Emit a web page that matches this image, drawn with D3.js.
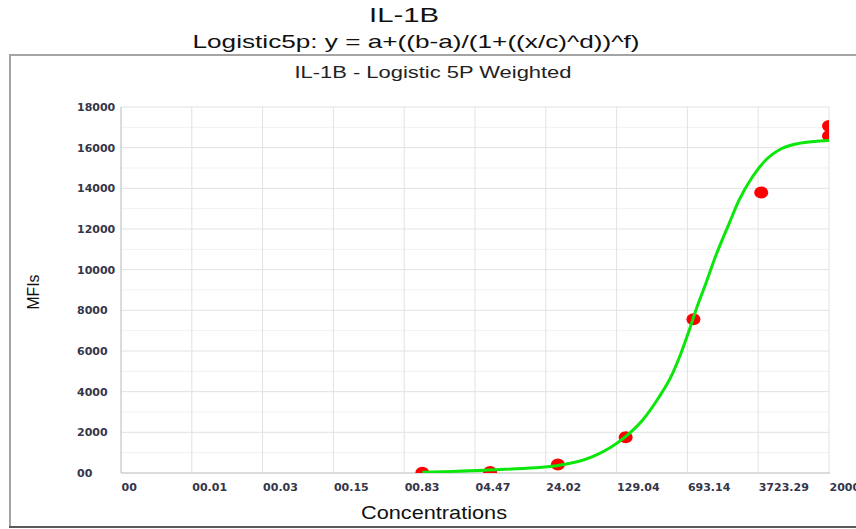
<!DOCTYPE html>
<html>
<head>
<meta charset="utf-8">
<script src="https://cdn.jsdelivr.net/npm/d3@7"></script>
<style>
  body { margin: 0; background: #fff; }
  svg { display: block; }
  .tick text { font-family: "DejaVu Sans", sans-serif; font-weight: bold; font-size: 11px; fill: #34364a; }
</style>
</head>
<body>
<div id="chart"></div>
<script>
// axis ticks (log spaced on x, as the instrument prints them)
const xTickValues = [0.001, 0.00537, 0.02885, 0.155, 0.8326, 4.472, 24.02, 129.04, 693.14, 3723.29, 20000];
const xTickLabels = ['00', '00.01', '00.03', '00.15', '00.83', '04.47', '24.02', '129.04', '693.14', '3723.29', '20000'];
const yTickValues = [0, 2000, 4000, 6000, 8000, 10000, 12000, 14000, 16000, 18000];
const yTickLabels = ['00', '2000', '4000', '6000', '8000', '10000', '12000', '14000', '16000', '18000'];
const yMinorValues = [1000, 3000, 5000, 7000, 9000, 11000, 13000, 15000, 17000];

// standards (red dots)
const stdConc = [1.28, 6.4, 32, 160, 800, 4000, 20000, 20000];
const stdMFI = [15, 50, 420, 1760, 7560, 13800, 17070, 16570];

// fitted 5P curve
const fitConc = [1.28, 6.3, 31, 73, 155, 240, 355, 470, 595, 725, 850, 1075, 1310, 1870, 2370, 3250, 4460, 6600, 9800, 20000];
const fitMFI = [40, 150, 360, 800, 1740, 2610, 3750, 4740, 5890, 7030, 8020, 9330, 10480, 12280, 13430, 14570, 15390, 15970, 16210, 16350];

function drawChart() {
  const width = 856, height = 529;
  const plot = {left: 121, right: 829, top: 107, bottom: 473};

  const svg = d3.select('#chart').append('svg').attr('width', width).attr('height', height);

  const x = d3.scaleLog().domain([0.001, 20000]).range([plot.left, plot.right]);
  const y = d3.scaleLinear().domain([0, 18000]).range([plot.bottom, plot.top]);

  // outer frame
  svg.append('line').attr('x1', 9).attr('x2', width).attr('y1', 55).attr('y2', 55).attr('stroke', '#a4a4a4').attr('stroke-width', 2);
  svg.append('line').attr('x1', 10).attr('x2', 10).attr('y1', 54).attr('y2', 527).attr('stroke', '#a4a4a4').attr('stroke-width', 2);
  svg.append('line').attr('x1', 9).attr('x2', width).attr('y1', 527).attr('y2', 527).attr('stroke', '#5a5a5a').attr('stroke-width', 2);

  // titles
  svg.append('text').attr('x', 404).attr('y', 22).attr('text-anchor', 'middle')
    .attr('font-family', 'Liberation Sans, Arial, sans-serif').attr('font-size', 21).attr('fill', '#111')
    .attr('textLength', 70).attr('lengthAdjust', 'spacingAndGlyphs').text('IL-1B');
  svg.append('text').attr('x', 416).attr('y', 48).attr('text-anchor', 'middle')
    .attr('font-family', 'Liberation Sans, Arial, sans-serif').attr('font-size', 19).attr('fill', '#111')
    .attr('textLength', 447).attr('lengthAdjust', 'spacingAndGlyphs').text('Logistic5p: y = a+((b-a)/(1+((x/c)^d))^f)');
  svg.append('text').attr('x', 433).attr('y', 78).attr('text-anchor', 'middle')
    .attr('font-family', 'Liberation Sans, Arial, sans-serif').attr('font-size', 16).attr('fill', '#222')
    .attr('textLength', 277).attr('lengthAdjust', 'spacingAndGlyphs').text('IL-1B - Logistic 5P Weighted');

  // grid
  const g = svg.append('g');
  g.selectAll('line.minor').data(yMinorValues).join('line').attr('class', 'minor')
    .attr('x1', plot.left).attr('x2', plot.right).attr('y1', d => y(d)).attr('y2', d => y(d))
    .attr('stroke', '#f1f1f1').attr('stroke-width', 1);
  g.selectAll('line.hmajor').data(yTickValues).join('line').attr('class', 'hmajor')
    .attr('x1', plot.left).attr('x2', plot.right).attr('y1', d => y(d)).attr('y2', d => y(d))
    .attr('stroke', '#e2e2e2').attr('stroke-width', 1);
  g.selectAll('line.vmajor').data(xTickValues).join('line').attr('class', 'vmajor')
    .attr('x1', d => x(d)).attr('x2', d => x(d)).attr('y1', plot.top).attr('y2', plot.bottom)
    .attr('stroke', '#e2e2e2').attr('stroke-width', 1);

  // axis lines
  svg.append('line').attr('x1', plot.left).attr('x2', plot.left).attr('y1', plot.top).attr('y2', plot.bottom).attr('stroke', '#c6c6c6');
  svg.append('line').attr('x1', plot.left).attr('x2', plot.right + 1).attr('y1', plot.bottom).attr('y2', plot.bottom).attr('stroke', '#c6c6c6');

  // tick labels
  const xAxis = d3.axisBottom(x).tickValues(xTickValues).tickFormat((d, i) => xTickLabels[i]).tickSize(0).tickPadding(0);
  const xg = svg.append('g').attr('transform', `translate(0,${plot.bottom})`).call(xAxis);
  xg.select('.domain').remove();
  xg.selectAll('text').attr('text-anchor', 'start').attr('dy', 0).attr('y', 18);

  const yAxis = d3.axisLeft(y).tickValues(yTickValues).tickFormat((d, i) => yTickLabels[i]).tickSize(0);
  const yg = svg.append('g').attr('transform', `translate(${plot.left},0)`).call(yAxis);
  yg.select('.domain').remove();
  yg.selectAll('text').attr('text-anchor', 'start').attr('x', -44);

  // axis titles
  svg.append('text').attr('x', 434).attr('y', 519).attr('text-anchor', 'middle')
    .attr('font-family', 'Liberation Sans, Arial, sans-serif').attr('font-size', 19).attr('fill', '#111')
    .attr('textLength', 146).attr('lengthAdjust', 'spacingAndGlyphs').text('Concentrations');
  svg.append('text').attr('transform', 'translate(39,292) rotate(-90)').attr('text-anchor', 'middle')
    .attr('font-family', 'Liberation Sans, Arial, sans-serif').attr('font-size', 17).attr('fill', '#111')
    .attr('textLength', 35).attr('lengthAdjust', 'spacingAndGlyphs').text('MFIs');

  // marks, clipped to the plot box
  svg.append('clipPath').attr('id', 'plotclip').append('rect')
    .attr('x', plot.left).attr('y', plot.top).attr('width', plot.right - plot.left).attr('height', plot.bottom - plot.top);
  const marks = svg.append('g').attr('clip-path', 'url(#plotclip)');

  const pts = stdConc.map((c, i) => ({c: c, v: stdMFI[i]}));
  marks.selectAll('ellipse').data(pts).join('ellipse')
    .attr('cx', d => x(d.c)).attr('cy', d => y(d.v)).attr('rx', 7).attr('ry', 6)
    .attr('fill', '#ff0000');

  const fit = fitConc.map((c, i) => ({c: c, v: fitMFI[i]}));
  const line = d3.line().x(d => x(d.c)).y(d => y(d.v)).curve(d3.curveMonotoneX);
  marks.append('path').datum(fit).attr('d', line)
    .attr('fill', 'none').attr('stroke', '#0be60b').attr('stroke-width', 3);
}

drawChart();
</script>
</body>
</html>
